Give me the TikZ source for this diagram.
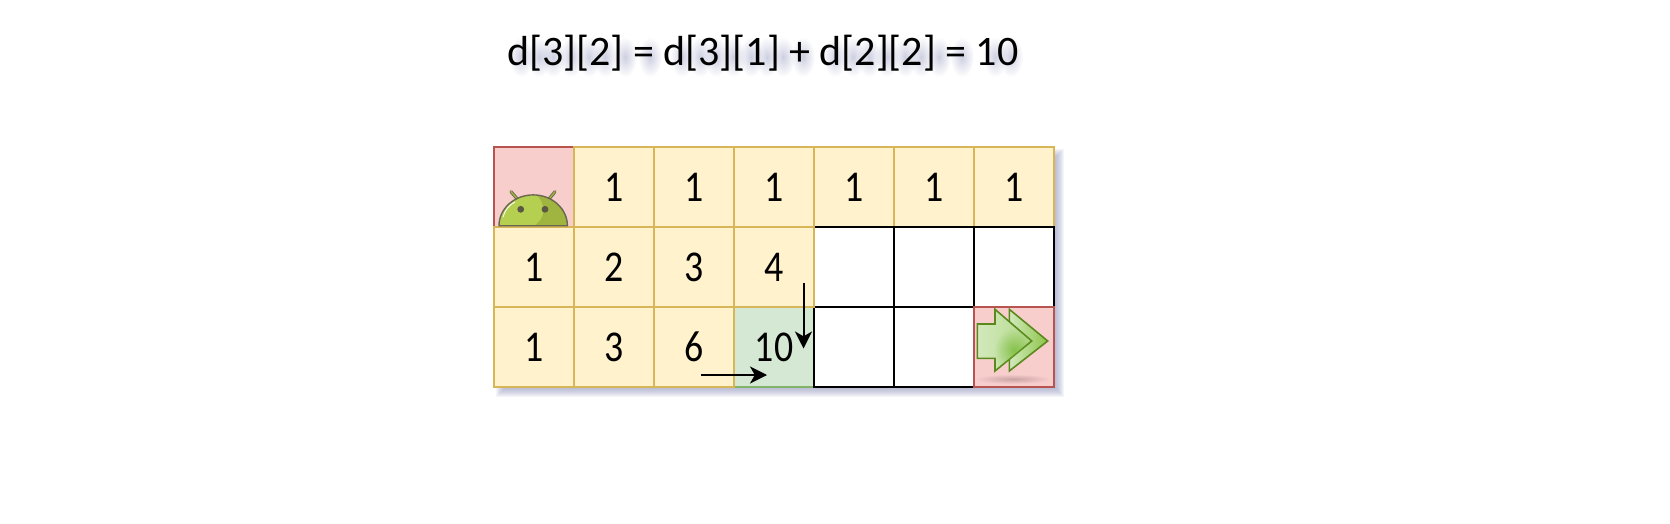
\documentclass[tikz,border=0pt]{standalone}
\usepackage{fontspec}
\setmainfont[FakeStretch=.86]{Carlito}
\newfontfamily\headfont{Carlito}
\usetikzlibrary{positioning,arrows.meta,backgrounds,fadings}
\definecolor{cellfill}{HTML}{FFF2CC}
\definecolor{celldraw}{HTML}{D6B656}
\definecolor{redfill}{HTML}{F8CECC}
\definecolor{reddraw}{HTML}{B85450}
\definecolor{greenfill}{HTML}{D5E8D4}
\definecolor{greendraw}{HTML}{82B366}
\definecolor{shadowblue}{HTML}{8A8FB8}
\definecolor{droidlight}{HTML}{B5CF50}
\definecolor{droiddark}{HTML}{9FB540}
\definecolor{droidline}{HTML}{6B6650}
\definecolor{arrowline}{HTML}{5A8A1E}
\definecolor{arrowpale}{HTML}{D2E9BC}
\definecolor{arrowmid}{HTML}{8CC548}
\definecolor{arrowglow}{HTML}{6FB52A}
\definecolor{floorshade}{HTML}{C9A3A4}
\tikzfading[name=softblob, inner color=transparent!0, outer color=transparent!100]
\tikzset{cell/.style = {draw = celldraw, fill = cellfill, line width = 1pt, minimum size = 40pt,
                        inner sep = 0pt, outer sep = 0pt, font = \fontsize{22}{22}\selectfont},
         blank/.style = {cell, draw = black, fill = white},
         endcell/.style = {cell, draw = reddraw, fill = redfill},
         nowcell/.style = {cell, draw = greendraw, fill = greenfill},
         flow/.style = {draw = black, line width = 1pt, -{Stealth[length = 8.5pt, width = 8.5pt, inset = 2.4pt]}},
         heading/.style = {font = \headfont\fontsize{21}{21}\selectfont},
         haze/.style = {fill = shadowblue, opacity = .42, path fading = softblob}
        }

\begin{document}
\begin{tikzpicture}[x=.5pt,y=-.5pt,node distance=0pt]
\useasboundingbox (0,0) rectangle (1670,524);
% blur under the heading
\foreach \gx in {517,535,549,567,585,601,621,646,678,696,712,729,747,763,779,799,831,849,865,883,901,917,935,958,991,1007}
  \fill[haze] (\gx+4,57) ellipse[x radius=6pt,y radius=10pt];
\node[heading] (title) at (763,53) {d[3][2] = d[3][1] + d[2][2] = 10};
% first row
\node[endcell] (a1) at (534,187) {};
\node[cell,right=of a1] (a2) {1};
\node[cell,right=of a2] (a3) {1};
\node[cell,right=of a3] (a4) {1};
\node[cell,right=of a4] (a5) {1};
\node[cell,right=of a5] (a6) {1};
\node[cell,right=of a6] (a7) {1};
% the cell being computed goes under the black lines
\node[nowcell] (c4) at (774,347) {10};
\node[blank,below=of a5] (b5) {};
\node[blank,right=of b5] (b6) {};
\node[blank,right=of b6] (b7) {};
\node[blank,right=of c4] (c5) {};
\node[blank,right=of c5] (c6) {};
% the filled part
\node[cell,below=of a1] (b1) {1};
\node[cell,right=of b1] (b2) {2};
\node[cell,right=of b2] (b3) {3};
\node[cell,right=of b3] (b4) {4};
\node[cell,below=of b1] (c1) {1};
\node[cell,right=of c1] (c2) {3};
\node[cell,right=of c2] (c3) {6};
\node[endcell,right=of c6] (c7) {};
\begin{scope}[on background layer]
\foreach \d in {-4,-3,...,4}
  \fill[shadowblue,opacity=.09] ([xshift=3pt-\d*.5pt,yshift=-3pt+\d*.5pt]a1.north west)
                                rectangle ([xshift=3pt+\d*.5pt,yshift=-3pt-\d*.5pt]c7.south east);
\end{scope}
% the two sums
\coordinate (left) at (701,375);
\coordinate (leftend) at (767,375);
\coordinate (up) at (803.5,283);
\coordinate (upend) at (803.5,348.5);
\draw[flow] (left) -- (leftend);
\draw[flow] (up) -- (upend);
% robot
\draw[droidline,line width=1.6pt,line cap=round] (511,191.7) -- (517.3,199) (555,191.7) -- (549,199);
\draw[droiddark,line width=.7pt,line cap=round] (511,191.7) -- (517.3,199) (555,191.7) -- (549,199);
\begin{scope}
\clip (499,225.7) arc[start angle=180,end angle=0,x radius=17.1pt,y radius=15.4pt] -- cycle;
\fill[droidlight] (495,190) rectangle (571,226);
\fill[droiddark] (537,195) .. controls (546,205) and (546,218) .. (534,226) -- (571,226) -- (571,190) -- cycle;
\end{scope}
\draw[droidline,line width=.7pt] (499,225.7) arc[start angle=180,end angle=0,x radius=17.1pt,y radius=15.4pt] -- cycle;
\draw[white,line width=.4pt,line cap=round] (503,217) .. controls (505,210) and (509,205) .. (515,202);
\fill[droidline!85!black] (520.7,209.3) circle[radius=1.7pt] (545,209.3) circle[radius=1.7pt];
% goal
\shade[inner color=floorshade,outer color=redfill] (1013,379) ellipse[x radius=19pt,y radius=2.4pt];
\shade[draw=arrowline,line width=.8pt,left color=arrowpale,right color=arrowmid]
  (1009.3,309.3) -- (1047.7,341) -- (1009.3,371) -- cycle;
\shade[draw=arrowline,line width=.8pt,left color=arrowpale,right color=arrowpale!60!arrowmid]
  (977.3,324) -- (995,324) -- (995,309.3) -- (1031.7,341) -- (995,371) -- (995,358.3) -- (977.3,358.3) -- cycle;
\begin{scope}
\clip (977.3,324) -- (995,324) -- (995,309.3) -- (1031.7,341) -- (995,371) -- (995,358.3) -- (977.3,358.3) -- cycle;
\fill[arrowglow,opacity=.7,path fading=softblob] (1014,350) ellipse[x radius=10pt,y radius=11pt];
\end{scope}
\end{tikzpicture}
\end{document}
